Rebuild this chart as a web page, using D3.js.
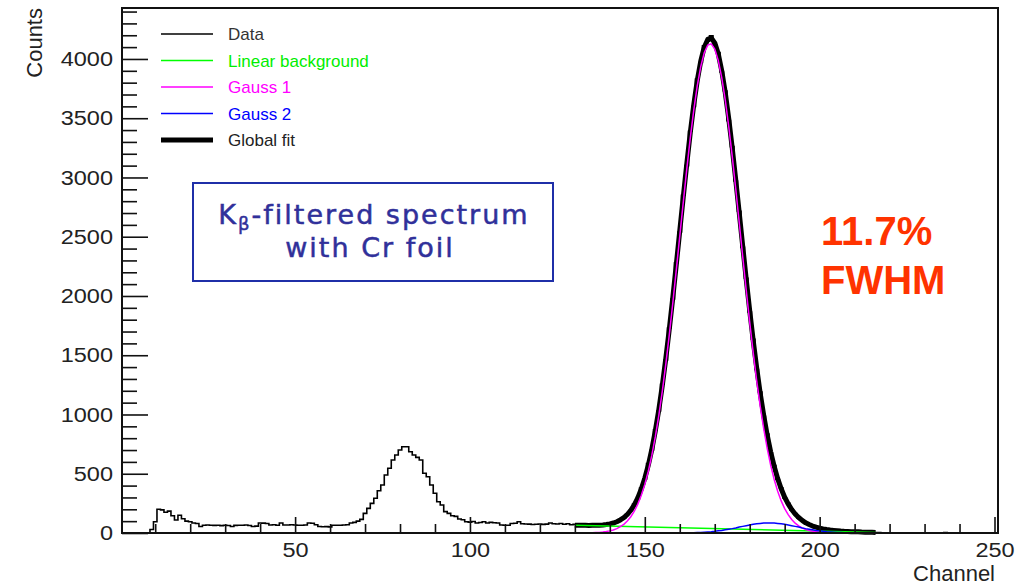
<!DOCTYPE html>
<html lang="en">
<head>
    <meta charset="UTF-8">
    <title>Kbeta filtered spectrum</title>
    <script src="https://cdnjs.cloudflare.com/ajax/libs/d3/7.8.5/d3.min.js"></script>
    <style>
        body { margin: 0; background: #fff; overflow: hidden; }
        svg { display: block; }
        .lbl { font-family: "Liberation Sans", Arial, sans-serif; fill: #222; }
    </style>
</head>
<body>
<svg width="1026" height="587"></svg>
<script>
    // histogram: counts per channel, first bin = channel 9
    const dataFirstChannel = 9;
    const dataCounts = [
        30,
        95, 200, 195, 175, 185, 145, 110, 150, 120, 100,
        95, 85, 80, 55, 65, 68, 66, 64, 65, 62,
        66, 63, 55, 64, 66, 65, 67, 63, 55, 58,
        85, 83, 80, 68, 70, 66, 85, 68, 67, 70,
        68, 66, 65, 68, 85, 82, 70, 55, 53, 54,
        52, 65, 66, 65, 67, 70, 85, 90, 100, 115,
        166, 208, 250, 293, 357, 405, 490, 546, 616, 658,
        700, 728, 728, 686, 658, 638, 616, 504, 475, 405,
        335, 264, 236, 180, 166, 145, 140, 118, 112, 95,
        92, 97, 85, 88, 95, 85, 90, 87, 84, 68,
        66, 65, 80, 82, 95, 78, 76, 75, 72, 74,
        76, 73, 75, 85, 78, 76, 80, 74, 78, 70,
        74, 68, 72, 66, 70, 67, 64, 70, 74, 70,
        80, 88, 93, 115, 125, 160, 190, 245, 290, 380,
        455, 585, 700, 870, 1030, 1255, 1460, 1730, 1975, 2280,
        2540, 2850, 3100, 3390, 3600, 3830, 3970, 4110, 4150, 4195,
        4120, 4055, 3890, 3730, 3480, 3260, 2970, 2715, 2410, 2150,
        1865, 1635, 1380, 1190, 985, 835, 676, 570, 452, 380,
        296, 250, 195, 165, 128, 110, 84, 75, 57, 51,
        38, 36, 27, 26, 20, 21, 15, 14, 12, 11,
        9, 10, 7, 8, 6, 6, 4, 3, 2, 2,
        1, 1, 0, 0, 0, 0, 0, 0, 0, 0,
        0, 0, 0, 0, 0, 0, 4, 0, 0, 0,
        0, 0, 0, 0, 0, 0, 0, 0, 0, 0, 0
    ];

    // fit functions sampled per channel, from channel 130 to 216
    const fitFirstChannel = 130;
    const globalFit = [
        66, 65, 66, 65, 64, 65, 66, 66, 68, 72,
        77, 84, 95, 110, 129, 156, 192, 238, 297, 371,
        462, 572, 705, 861, 1039, 1243, 1471, 1719, 1985, 2263,
        2551, 2836, 3114, 3377, 3614, 3818, 3982, 4099, 4165, 4177,
        4136, 4043, 3901, 3718, 3497, 3249, 2981, 2703, 2420, 2142,
        1876, 1623, 1391, 1179, 992, 826, 683, 562, 459, 373,
        302, 246, 198, 160, 131, 106, 86, 72, 59, 49,
        40, 34, 29, 25, 22, 19, 16, 14, 13, 11,
        10, 10, 8, 7, 7, 6, 5
    ];
    const gauss1 = [
        0, 0, 1, 1, 1, 2, 4, 5, 8, 12,
        18, 26, 37, 53, 73, 101, 137, 184, 244, 318,
        410, 521, 655, 811, 990, 1195, 1423, 1672, 1939, 2218,
        2505, 2791, 3070, 3332, 3569, 3773, 3936, 4052, 4117, 4128,
        4084, 3988, 3843, 3655, 3430, 3178, 2905, 2620, 2332, 2049,
        1777, 1520, 1284, 1070, 880, 714, 572, 452, 353, 271,
        206, 155, 114, 83, 60, 43, 30, 21, 14, 10,
        6, 4, 3, 2, 1, 1, 0, 0, 0, 0,
        0, 0, 0, 0, 0, 0, 0
    ];
    const gauss2 = [
        0, 0, 0, 0, 0, 0, 0, 0, 0, 0,
        0, 0, 0, 0, 0, 0, 0, 0, 0, 0,
        0, 0, 0, 0, 0, 0, 0, 0, 0, 0,
        1, 1, 1, 2, 3, 4, 5, 7, 9, 11,
        14, 18, 22, 27, 32, 37, 43, 50, 56, 62,
        68, 73, 78, 81, 84, 85, 85, 84, 81, 78,
        73, 68, 62, 56, 50, 43, 37, 32, 27, 22,
        18, 14, 11, 9, 7, 5, 4, 3, 2, 1,
        1, 1, 0, 0, 0, 0, 0
    ];
    // linear background: end points
    const bgChannels = [130, 216];
    const bgCounts = [66, 5];

    const xMajorTicks = [50, 100, 150, 200, 250];
    const yMajorTicks = [0, 500, 1000, 1500, 2000, 2500, 3000, 3500, 4000];

    const legendItems = [
        { label: "Data", color: "#000", text: "#333", width: 1.5 },
        { label: "Linear background", color: "#00ff00", text: "#00ee00", width: 1.5 },
        { label: "Gauss 1", color: "#ff00ff", text: "#ff00ff", width: 1.5 },
        { label: "Gauss 2", color: "#0000ff", text: "#0000ff", width: 1.5 },
        { label: "Global fit", color: "#000", text: "#222", width: 5 }
    ];

    const svg = d3.select("svg");
    const mLeft = 122, mRight = 998, mTop = 8, mBottom = 533;

    const x = d3.scaleLinear().domain([0.5, 251]).range([mLeft, mRight]);
    const y = d3.scaleLinear().domain([0, 4430]).range([mBottom, mTop]);

    // histogram step path
    const histPts = [[dataFirstChannel - 0.5, 0]];
    dataCounts.forEach((v, i) => histPts.push([dataFirstChannel + i - 0.5, v]));
    histPts.push([dataFirstChannel + dataCounts.length - 0.5, dataCounts[dataCounts.length - 1]]);

    const stepLine = d3.line().x(d => x(d[0])).y(d => y(d[1])).curve(d3.curveStepAfter);
    const fitLine = d3.line().x((d, i) => x(fitFirstChannel + i)).y(d => y(d));

    const plot = svg.append("g");

    plot.append("path")
        .attr("d", stepLine(histPts))
        .attr("fill", "none").attr("stroke", "#000").attr("stroke-width", 1.6);

    plot.append("path")
        .attr("d", fitLine(globalFit))
        .attr("fill", "none").attr("stroke", "#000").attr("stroke-width", 5)
        .attr("stroke-linejoin", "round");

    plot.append("path")
        .attr("d", d3.line().x(d => x(d[0])).y(d => y(d[1]))(bgChannels.map((c, i) => [c, bgCounts[i]])))
        .attr("fill", "none").attr("stroke", "#00ff00").attr("stroke-width", 1.5);

    plot.append("path")
        .attr("d", fitLine(gauss1))
        .attr("fill", "none").attr("stroke", "#ff00ff").attr("stroke-width", 1.5);

    plot.append("path")
        .attr("d", fitLine(gauss2))
        .attr("fill", "none").attr("stroke", "#0000ff").attr("stroke-width", 1.5);

    // axes, ticks pointing inward
    const xMinor = d3.range(10, 251, 10).filter(v => v % 50 !== 0);
    svg.append("g").attr("transform", `translate(0,${mBottom})`)
        .call(d3.axisBottom(x).tickValues(xMinor).tickSize(-9).tickFormat(""))
        .call(g => g.select(".domain").remove());
    const xAx = svg.append("g").attr("transform", `translate(0,${mBottom})`)
        .call(d3.axisBottom(x).tickValues(xMajorTicks).tickSize(-16).tickPadding(8).tickFormat(d3.format("d")));
    xAx.select(".domain").remove();

    const yMinor = d3.range(100, 4430, 100).filter(v => v % 500 !== 0);
    svg.append("g").attr("transform", `translate(${mLeft},0)`)
        .call(d3.axisLeft(y).tickValues(yMinor).tickSize(-15).tickFormat(""))
        .call(g => g.select(".domain").remove());
    const yAx = svg.append("g").attr("transform", `translate(${mLeft},0)`)
        .call(d3.axisLeft(y).tickValues(yMajorTicks).tickSize(-26).tickPadding(9).tickFormat(d3.format("d")));
    yAx.select(".domain").remove();

    svg.selectAll(".tick line").attr("stroke", "#111").attr("stroke-width", 1.6);
    svg.selectAll(".tick text")
        .attr("class", "lbl")
        .style("font-size", "21px")
        .attr("fill", "#222");
    xAx.selectAll(".tick text").attr("dy", "0.71em").attr("y", 9)
        .attr("transform", "scale(1.12,1)");
    yAx.selectAll(".tick text").attr("x", -9 / 1.12).attr("transform", "scale(1.12,1)");

    // frame
    svg.append("rect")
        .attr("x", mLeft).attr("y", mTop)
        .attr("width", mRight - mLeft).attr("height", mBottom - mTop)
        .attr("fill", "none").attr("stroke", "#111").attr("stroke-width", 2);

    // axis titles
    svg.append("text").attr("class", "lbl")
        .attr("transform", `translate(42,${mTop}) rotate(-90)`)
        .attr("text-anchor", "end")
        .style("font-size", "22px")
        .text("Counts");
    svg.append("text").attr("class", "lbl")
        .attr("x", 995).attr("y", 581)
        .attr("text-anchor", "end")
        .style("font-size", "22px")
        .text("Channel");

    // legend
    const leg = svg.append("g");
    legendItems.forEach((d, i) => {
        const ly = 34 + i * 26.5;
        leg.append("line")
            .attr("x1", 161).attr("x2", 213).attr("y1", ly).attr("y2", ly)
            .attr("stroke", d.color).attr("stroke-width", d.width);
        leg.append("text").attr("class", "lbl")
            .attr("x", 228).attr("y", ly + 6)
            .style("font-size", "17px")
            .style("fill", d.text)
            .text(d.label);
    });

    // annotation box
    svg.append("rect")
        .attr("x", 193).attr("y", 183).attr("width", 360).attr("height", 98)
        .attr("fill", "#fff").attr("stroke", "#1f2fa8").attr("stroke-width", 2);
    const note = svg.append("text")
        .attr("text-anchor", "middle")
        .style("font-family", "'Comic Sans MS', 'DejaVu Sans', sans-serif")
        .style("font-size", "27px")
        .style("letter-spacing", "2px")
        .attr("fill", "#30309a")
        .attr("stroke", "#30309a").attr("stroke-width", 0.5);
    const l1 = note.append("tspan").attr("x", 374).attr("y", 224);
    l1.append("tspan").text("K");
    l1.append("tspan").attr("dy", 6).style("font-size", "18px").text("β");
    l1.append("tspan").attr("dy", -6).text("-filtered spectrum");
    note.append("tspan").attr("x", 370).attr("y", 257).text("with Cr foil");

    // resolution label
    svg.append("text")
        .attr("x", 821).attr("y", 245)
        .style("font-family", "'Liberation Sans', Arial, sans-serif")
        .style("font-weight", "bold").style("font-size", "40px")
        .attr("fill", "#ff3300")
        .text("11.7%");
    svg.append("text")
        .attr("x", 821).attr("y", 294)
        .style("font-family", "'Liberation Sans', Arial, sans-serif")
        .style("font-weight", "bold").style("font-size", "40px")
        .attr("fill", "#ff3300")
        .text("FWHM");
</script>
</body>
</html>
